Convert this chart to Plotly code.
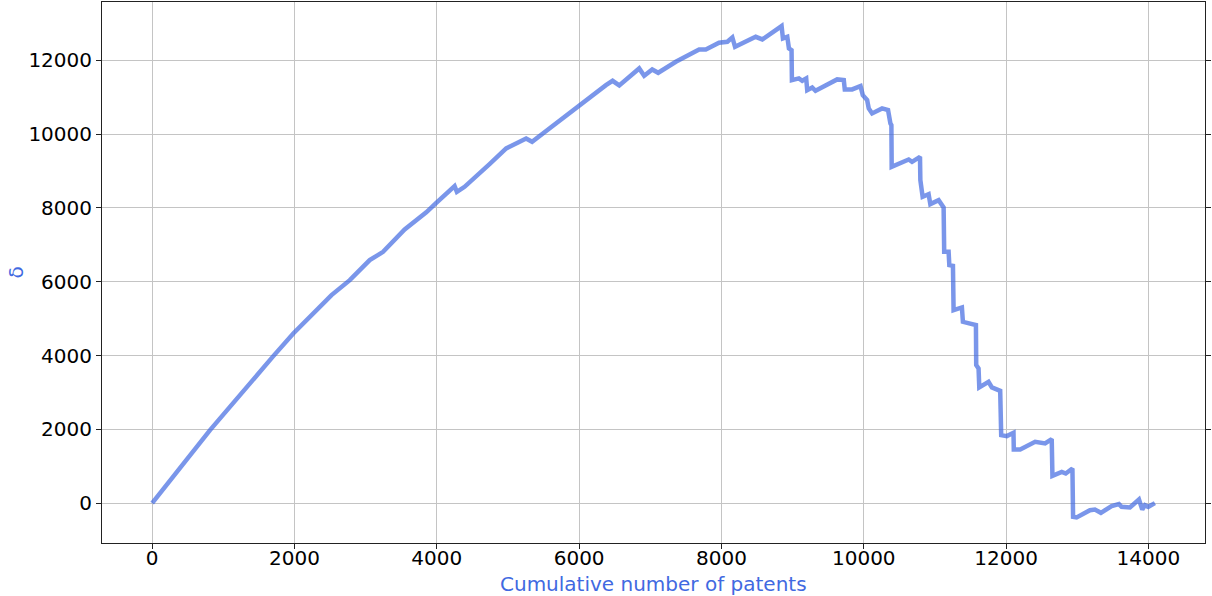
import plotly.graph_objects as go

# cumulative number of patents vs delta
patents = [
    0, 813, 1702, 1983, 2520, 2777, 3057, 3245, 3548, 3852, 4000, 4250, 4282,
    4390, 4741, 4975, 5255, 5339, 5582, 6003, 6377, 6470, 6564, 6844, 6914,
    7027, 7111, 7359, 7686, 7780, 7966, 8083, 8153, 8191, 8481, 8574, 8845,
    8864, 8925, 8948, 8985, 8990, 9088, 9135, 9191, 9205, 9275, 9322, 9626,
    9719, 9733, 9836, 9954, 9986, 10047, 10070, 10117, 10257, 10341, 10374,
    10388, 10392, 10631, 10678, 10790, 10795, 10827, 10911, 10935, 11052,
    11122, 11130, 11192, 11202, 11253, 11262, 11379, 11393, 11520, 11576,
    11580, 11613, 11623, 11753, 11800, 11917, 11931, 12010, 12104, 12108,
    12198, 12408, 12548, 12641, 12651, 12782, 12838, 12932, 12941, 12991,
    13178, 13248, 13332, 13483, 13586, 13623, 13740, 13867, 13913, 13951,
    13997, 14091,
]
delta = [
    0, 1978, 3984, 4598, 5637, 6043, 6585, 6810, 7417, 7880, 8150, 8591, 8437,
    8572, 9187, 9612, 9883, 9792, 10154, 10786, 11328, 11445, 11320, 11780,
    11580, 11753, 11662, 11960, 12295, 12295, 12475, 12502, 12620, 12366,
    12637, 12565, 12927, 12593, 12637, 12323, 12276, 11463, 11509, 11445,
    11509, 11192, 11265, 11174, 11482, 11463, 11211, 11211, 11301, 11057,
    10921, 10696, 10560, 10696, 10650, 10290, 10244, 9114, 9313, 9250, 9385,
    8753, 8301, 8374, 8103, 8211, 8013, 6810, 6810, 6450, 6431, 5230, 5303,
    4913, 4851, 4824, 3740, 3650, 3135, 3287, 3135, 3043, 1843, 1816, 1906,
    1455, 1455, 1661, 1617, 1734, 740, 848, 803, 940, -370, -388, -190, -172,
    -262, -81, -27, -100, -117, 100, -172, -54, -100, 0,
]
x_ticks = [0, 2000, 4000, 6000, 8000, 10000, 12000, 14000]
y_ticks = [0, 2000, 4000, 6000, 8000, 10000, 12000]

LINE_COLOR = "rgba(65,105,225,0.7)"
LABEL_COLOR = "#4169E1"
GRID_COLOR = "#c4c4c4"
FONT = "DejaVu Sans"

fig = go.Figure()
fig.add_trace(go.Scatter(
    x=patents,
    y=delta,
    mode="lines",
    line=dict(color=LINE_COLOR, width=4.5),
    showlegend=False,
))

axis_common = dict(
    showgrid=True,
    gridcolor=GRID_COLOR,
    gridwidth=1,
    zeroline=False,
    showline=True,
    linecolor="#222222",
    linewidth=1,
    ticks="outside",
    ticklen=5,
    tickcolor="#222222",
    tickfont=dict(size=20, color="black", family=FONT),
    automargin=False,
)

fig.update_layout(
    width=1212,
    height=596,
    paper_bgcolor="white",
    plot_bgcolor="white",
    font=dict(family=FONT, color="black"),
    margin=dict(l=102, r=7, t=2, b=53),
    xaxis=dict(
        **axis_common,
        mirror=True,
        range=[-705, 14795],
        tickvals=x_ticks,
        ticktext=[str(v) for v in x_ticks],
        ticklabelstandoff=-8,
    ),
    yaxis=dict(
        **axis_common,
        mirror="ticks",
        range=[-1080, 13580],
        tickvals=y_ticks,
        ticktext=[str(v) for v in y_ticks],
    ),
)

# axis titles as annotations so they sit where the reference has them
fig.add_annotation(
    text="Cumulative number of patents",
    xref="paper", yref="paper", x=0.5, y=0,
    xanchor="center", yanchor="middle", yshift=-41,
    showarrow=False,
    font=dict(size=20, color=LABEL_COLOR, family=FONT),
)
fig.add_annotation(
    text="δ",
    xref="paper", yref="paper", x=0, y=0.5,
    xanchor="center", yanchor="middle", xshift=-87,
    textangle=-90,
    showarrow=False,
    font=dict(size=20, color=LABEL_COLOR, family=FONT),
)

# drop the page's default body margin so the figure fills the window
fig.write_html(
    "out.html",
    config={"displayModeBar": False},
    post_script="document.body.style.margin='0';",
)
